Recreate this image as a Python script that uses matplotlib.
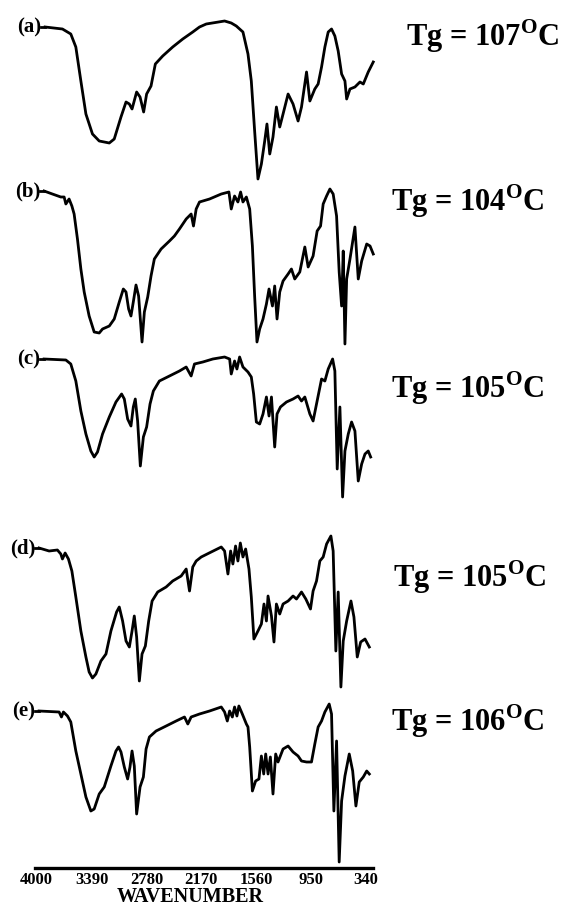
import numpy as np
import matplotlib
matplotlib.use("Agg")
import matplotlib.pyplot as plt

plt.rcParams['font.family'] = ['Liberation Serif', 'DejaVu Serif']
plt.rcParams['font.weight'] = 'bold'
plt.rcParams['mathtext.fontset'] = 'custom'
plt.rcParams['mathtext.rm'] = 'Liberation Serif'
plt.rcParams['mathtext.bf'] = 'Liberation Serif:bold'

# IR spectra (wavenumber in cm-1, transmittance in arbitrary units)
wn_a = [3907, 3714, 3621, 3565, 3509, 3453, 3380, 3305, 3193, 3138, 3063, 3007, 2970, 2940, 2889,
        2851, 2811, 2778, 2729, 2681, 2599, 2488, 2376, 2265, 2190, 2115, 1911, 1837, 1781, 1707,
        1651, 1614, 1577, 1540, 1502, 1465, 1440, 1409, 1373, 1335, 1298, 1261, 1205, 1150, 1094,
        1056, 1000, 963, 908, 871, 833, 796, 759, 722, 685, 648, 610, 573, 554, 517,
        462, 406, 369, 314, 258]
t_a = [162, 160, 155, 142, 108, 75, 55, 48, 46, 50, 72, 87, 85, 80, 97,
       92, 77, 95, 103, 125, 133, 142, 150, 157, 162, 165, 168, 166, 163, 157,
       135, 108, 58, 10, 25, 48, 65, 35, 52, 82, 62, 75, 95, 85, 68,
       82, 117, 88, 100, 105, 122, 142, 157, 160, 153, 138, 115, 108, 90, 100,
       102, 107, 105, 117, 127]

wn_b = [3918, 3826, 3732, 3695, 3676, 3640, 3609, 3584, 3547, 3509, 3472, 3417, 3361, 3305, 3268,
        3193, 3138, 3082, 3037, 3007, 2978, 2952, 2926, 2896, 2867, 2829, 2803, 2766, 2729, 2692,
        2617, 2524, 2469, 2413, 2338, 2283, 2257, 2227, 2190, 2078, 1948, 1863, 1837, 1800, 1763,
        1733, 1707, 1669, 1632, 1602, 1577, 1551, 1521, 1484, 1446, 1417, 1379, 1354, 1328, 1298,
        1261, 1205, 1168, 1131, 1075, 1019, 982, 927, 882, 844, 815, 777, 740, 704, 666,
        637, 610, 592, 573, 554, 517, 462, 425, 387, 331, 294, 258]
t_b = [158, 155, 152, 152, 145, 150, 143, 135, 110, 80, 57, 33, 17, 16, 20,
       23, 30, 47, 60, 57, 40, 33, 47, 64, 53, 7, 37, 52, 73, 90,
       100, 108, 113, 120, 130, 135, 123, 140, 147, 150, 155, 157, 140, 153, 147,
       157, 147, 152, 140, 103, 53, 7, 20, 30, 45, 60, 43, 63, 30, 57,
       68, 75, 80, 70, 77, 102, 82, 93, 118, 123, 145, 153, 160, 155, 133,
       77, 43, 98, 5, 70, 90, 122, 70, 88, 105, 103, 95]

wn_c = [3918, 3676, 3621, 3565, 3509, 3453, 3398, 3361, 3324, 3268, 3193, 3119, 3056, 3026, 2989,
        2952, 2926, 2904, 2878, 2848, 2814, 2778, 2740, 2703, 2636, 2524, 2413, 2338, 2283, 2246,
        2153, 2042, 1911, 1855, 1837, 1800, 1774, 1744, 1707, 1651, 1614, 1588, 1558, 1521, 1484,
        1446, 1417, 1390, 1354, 1328, 1290, 1223, 1150, 1094, 1056, 1019, 963, 927, 889, 833,
        796, 759, 710, 685, 659, 629, 599, 573, 536, 499, 462, 425, 387, 350, 314, 287]
t_c = [145, 144, 140, 123, 93, 70, 53, 47, 52, 70, 87, 102, 110, 105, 85,
       78, 97, 105, 83, 38, 67, 77, 100, 113, 123, 128, 133, 137, 128, 140,
       142, 145, 147, 145, 130, 143, 135, 147, 137, 132, 127, 110, 82, 80, 90,
       107, 88, 107, 57, 90, 97, 102, 105, 108, 103, 107, 90, 83, 100, 125,
       123, 135, 145, 133, 35, 97, 7, 53, 70, 82, 73, 23, 40, 50, 53, 47]

wn_d = [3974, 3862, 3770, 3732, 3714, 3684, 3647, 3609, 3565, 3509, 3453, 3417, 3380, 3342, 3286,
        3230, 3175, 3112, 3082, 3045, 3007, 2970, 2940, 2915, 2889, 2859, 2829, 2792, 2755, 2717,
        2655, 2561, 2488, 2394, 2338, 2301, 2265, 2227, 2171, 2060, 1948, 1911, 1874, 1844, 1819,
        1789, 1763, 1736, 1707, 1677, 1640, 1614, 1585, 1540, 1502, 1473, 1446, 1428, 1390, 1362,
        1335, 1298, 1261, 1205, 1150, 1112, 1056, 1008, 956, 927, 889, 852, 815, 777, 729,
        704, 674, 648, 618, 592, 554, 506, 473, 436, 398, 350, 302]
t_d = [146, 143, 144, 140, 135, 141, 135, 123, 97, 63, 37, 22, 16, 20, 33,
       40, 63, 82, 87, 73, 53, 47, 63, 78, 57, 13, 40, 48, 73, 93,
       102, 107, 113, 118, 125, 103, 127, 133, 137, 142, 147, 143, 120, 143, 130,
       148, 133, 151, 137, 145, 125, 97, 55, 63, 70, 90, 73, 98, 78, 52,
       90, 80, 90, 93, 98, 95, 102, 95, 85, 103, 113, 133, 137, 150, 158,
       143, 43, 102, 7, 53, 73, 93, 77, 37, 52, 55, 47]

wn_e = [3974, 3751, 3725, 3703, 3658, 3621, 3565, 3509, 3453, 3398, 3361, 3305, 3249, 3175, 3119,
        3090, 3063, 3026, 2989, 2963, 2940, 2915, 2889, 2851, 2814, 2784, 2747, 2673, 2561, 2450,
        2357, 2320, 2283, 2190, 2078, 1948, 1911, 1881, 1855, 1825, 1800, 1774, 1752, 1714, 1669,
        1651, 1632, 1602, 1566, 1529, 1502, 1476, 1454, 1428, 1402, 1373, 1343, 1317, 1261, 1205,
        1150, 1094, 1056, 1000, 945, 908, 871, 833, 796, 748, 722, 696, 666, 637, 610,
        573, 525, 487, 451, 414, 369, 331, 302]
t_e = [158, 157, 152, 157, 153, 147, 118, 95, 72, 58, 60, 75, 82, 103, 118,
       122, 117, 102, 90, 102, 118, 103, 55, 82, 92, 120, 132, 138, 143, 148,
       152, 145, 152, 155, 158, 162, 157, 148, 158, 152, 162, 153, 163, 155, 145,
       142, 122, 78, 88, 90, 113, 95, 115, 95, 112, 75, 115, 107, 120, 123,
       117, 113, 108, 107, 107, 125, 142, 148, 157, 165, 155, 58, 128, 7, 68,
       93, 115, 98, 63, 87, 92, 98, 95]

labels = ['(a)', '(b)', '(c)', '(d)', '(e)']
tg_values = [107, 104, 105, 105, 106]
xticks = [4000, 3390, 2780, 2170, 1560, 950, 340]

spectra = [(wn_a, t_a), (wn_b, t_b), (wn_c, t_c), (wn_d, t_d), (wn_e, t_e)]

# layout (pixels of a 563x913 canvas)
offsets = [679, 519, 364, 174, -1]
tg_pos = [(406, 36), (391, 201), (391, 388), (393, 577), (391, 721)]

W, H = 563, 913
fig = plt.figure(figsize=(W / 100, H / 100), dpi=100)
ax = fig.add_axes([35 / W, 45 / H, 338 / W, 868 / H])

for (wn, t), off, lab in zip(spectra, offsets, labels):
    y = np.array(t) + off
    ax.plot(wn, y, color='black', lw=2.0, clip_on=False, solid_joinstyle='round')
    ax.plot([wn[0] + 40, wn[0]], [y[0], y[0]], color='black', lw=2.0, clip_on=False)
    ax.text(wn[0] + 40, y[0], lab, ha='right', va='center', fontsize=15, fontweight='bold')

ax.set_xlim(4019, 261)
ax.set_ylim(0, 868)
ax.set_xticks(xticks)
ax.set_xticklabels([str(v) for v in xticks], fontsize=12, fontweight='bold')
ax.tick_params(axis='x', length=0, pad=3)
ax.set_yticks([])
for s in ['top', 'left', 'right']:
    ax.spines[s].set_visible(False)
ax.spines['bottom'].set_linewidth(2.4)
ax.patch.set_alpha(0)

fig.text(190 / W, 1 - 897 / H, 'WAVENUMBER', ha='center', va='center',
         fontsize=14.5, fontweight='bold')

for (px, py), tg in zip(tg_pos, tg_values):
    fig.text(px / W, 1 - py / H, 'Tg = %d$^{\\mathbf{O}}$C' % tg, ha='left', va='center',
             fontsize=22, fontweight='bold')

fig.savefig('out.png', dpi=100)
